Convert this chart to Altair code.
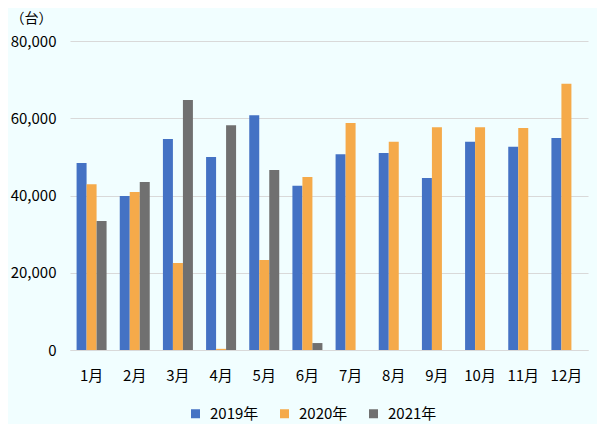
import altair as alt
import pandas as pd

months = ["1月", "2月", "3月", "4月", "5月", "6月", "7月", "8月", "9月", "10月", "11月", "12月"]
years = ["2019年", "2020年", "2021年"]
v2019 = [48400, 39900, 54600, 50000, 60800, 42500, 50700, 51000, 44500, 53900, 52600, 54900]
v2020 = [42900, 40900, 22500, 300, 23300, 44800, 58800, 53900, 57700, 57700, 57500, 68900]
v2021 = [33400, 43500, 64700, 58200, 46600, 1800, None, None, None, None, None, None]
colors = ["#4472C4", "#F5AA4A", "#707070"]

rows = []
for i, m in enumerate(months):
    for y, vals in zip(years, [v2019, v2020, v2021]):
        if vals[i] is not None:
            rows.append({"month": m, "year": y, "value": vals[i]})
df = pd.DataFrame(rows)

FONT = "Noto Sans CJK JP"

chart = alt.Chart(df).mark_bar().encode(
    x=alt.X("month:N", sort=months,
            scale=alt.Scale(paddingInner=0.305, paddingOuter=0.1525),
            axis=alt.Axis(title=None, labelAngle=0, ticks=False, domainColor="#D9D9D9",
                          labelPadding=18, labelFontSize=15, labelColor="#000000", labelFont=FONT)),
    xOffset=alt.XOffset("year:N", sort=years, scale=alt.Scale(domain=years, paddingInner=0, paddingOuter=0)),
    y=alt.Y("value:Q", scale=alt.Scale(domain=[0, 80000], nice=False),
            axis=alt.Axis(values=[0, 20000, 40000, 60000, 80000], format=",.0f", domain=False, ticks=False,
                          gridColor="#D9D9D9", labelPadding=14, labelFontSize=15, labelColor="#000000",
                          labelFont=FONT, title="（台）", titleAngle=0, titleX=-60, titleY=-23,
                          titleAlign="left", titleBaseline="middle", titleFontSize=14,
                          titleFontWeight="normal", titleFont=FONT, titleColor="#000000")),
    color=alt.Color("year:N", sort=years, scale=alt.Scale(domain=years, range=colors),
                    legend=alt.Legend(title=None, orient="none", direction="horizontal",
                                      legendX=118, legendY=365, symbolType="square", symbolSize=81,
                                      symbolStrokeWidth=0, labelFontSize=15, labelFont=FONT,
                                      labelColor="#000000", labelOffset=7, columnPadding=18)),
).properties(
    width=518, height=309,
    autosize=alt.AutoSizeParams(type="none"),
    padding={"left": 62, "top": 33, "right": 9, "bottom": 74},
    background="#F1FEFF",
).configure_view(stroke=None)

chart.save("out.html", embed_options={"renderer": "svg", "actions": False})
